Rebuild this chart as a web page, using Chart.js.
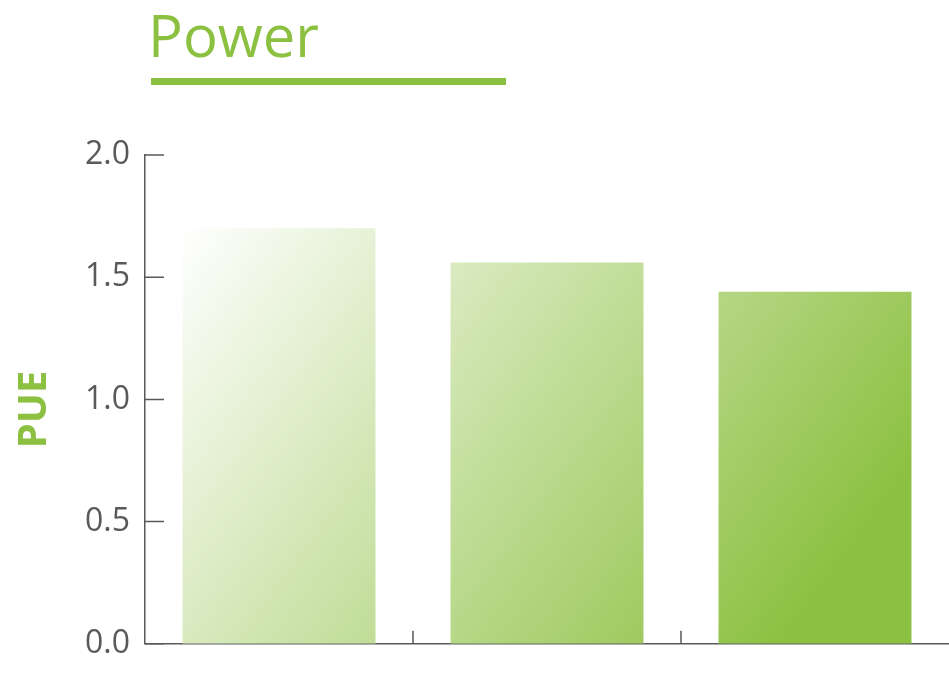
<!DOCTYPE html>
<html>
<head>
<meta charset="utf-8">
<script src="https://cdn.jsdelivr.net/npm/chart.js@4.4.1/dist/chart.umd.min.js"></script>
<style>
    body { margin: 0; background: #fff; }
    #wrap { position: relative; width: 949px; height: 678px; }
    #title {
        position: absolute; left: 148px; top: 0px;
        font-family: "Open Sans", sans-serif; font-size: 58px; font-weight: 400;
        color: #8cc040; line-height: 70px;
    }
    #rule { position: absolute; left: 151px; top: 78px; width: 355px; height: 7px; background: #8cc040; }
    canvas { position: absolute; left: 0; top: 0; }
</style>
</head>
<body>
<div id="wrap">
    <canvas id="myChart" width="949" height="678"></canvas>
    <div id="title">Power</div>
    <div id="rule"></div>
</div>
<script>
// chart data
const categories = ['Bar 1', 'Bar 2', 'Bar 3'];
const pueValues = [1.70, 1.56, 1.44];
const yTicks = [0.0, 0.5, 1.0, 1.5, 2.0];
const axisLabel = 'PUE';

const axisColor = '#58595b';
const green = '#8cc040';

// gradient spans the whole plot area, light top-left to green bottom-right
function barGradient(context) {
    const area = context.chart.chartArea;
    if (!area) return green;
    const w = area.right - area.left;
    const h = area.bottom - area.top;
    const g = context.chart.ctx.createLinearGradient(
        area.left + 0.046 * w, area.top + 0.149 * h,
        area.left + 0.782 * w, area.top + 1.04 * h);
    g.addColorStop(0, '#ffffff');
    g.addColorStop(1, green);
    return g;
}

// tick marks pointing into the plot, plus the rotated axis label
const innerTicks = {
    id: 'innerTicks',
    afterDraw(chart) {
        const ctx = chart.ctx;
        const x = chart.scales.x, y = chart.scales.y;
        ctx.save();
        ctx.strokeStyle = axisColor;
        ctx.lineWidth = 1.5;
        ctx.beginPath();
        yTicks.forEach(v => {
            const py = y.getPixelForValue(v);
            ctx.moveTo(y.right, py);
            ctx.lineTo(y.right + 19, py);
        });
        for (let i = 0; i < categories.length - 1; i++) {
            const px = (x.getPixelForValue(i) + x.getPixelForValue(i + 1)) / 2;
            ctx.moveTo(px, x.top);
            ctx.lineTo(px, x.top - 13);
        }
        ctx.stroke();

        // PUE label, sits a little below the plot's middle
        ctx.translate(35, (y.top + y.bottom) / 2 + 10);
        ctx.rotate(-Math.PI / 2);
        ctx.fillStyle = green;
        ctx.font = 'bold 40px "Open Sans"';
        ctx.textAlign = 'center';
        ctx.textBaseline = 'middle';
        ctx.fillText(axisLabel, 0, 0);
        ctx.restore();
    }
};

const ctx = document.getElementById('myChart').getContext('2d');

const myChart = new Chart(ctx, {
    type: 'bar',
    data: {
        labels: categories,
        datasets: [{
            data: pueValues,
            backgroundColor: barGradient,
            borderWidth: 0,
            barPercentage: 0.72,
            categoryPercentage: 1.0
        }]
    },
    options: {
        responsive: false,
        animation: false,
        layout: { padding: { top: 155, right: 0, bottom: 0, left: 0 } },
        plugins: {
            legend: { display: false },
            tooltip: { enabled: false }
        },
        scales: {
            x: {
                grid: { display: false, drawTicks: false },
                border: { display: true, color: axisColor, width: 1.5 },
                ticks: { display: false },
                afterFit(scale) { scale.height = 31; }
            },
            y: {
                min: yTicks[0],
                max: yTicks[yTicks.length - 1],
                afterBuildTicks(scale) { scale.ticks = yTicks.map(v => ({ value: v })); },
                grid: { display: false, drawTicks: false },
                border: { display: true, color: axisColor, width: 1.5 },
                ticks: {
                    padding: 15,
                    color: axisColor,
                    font: { family: 'Open Sans', size: 32 },
                    callback: v => Number(v).toFixed(1)
                },
                afterFit(scale) { scale.width = 145; }
            }
        }
    },
    plugins: [innerTicks]
});
</script>
</body>
</html>
